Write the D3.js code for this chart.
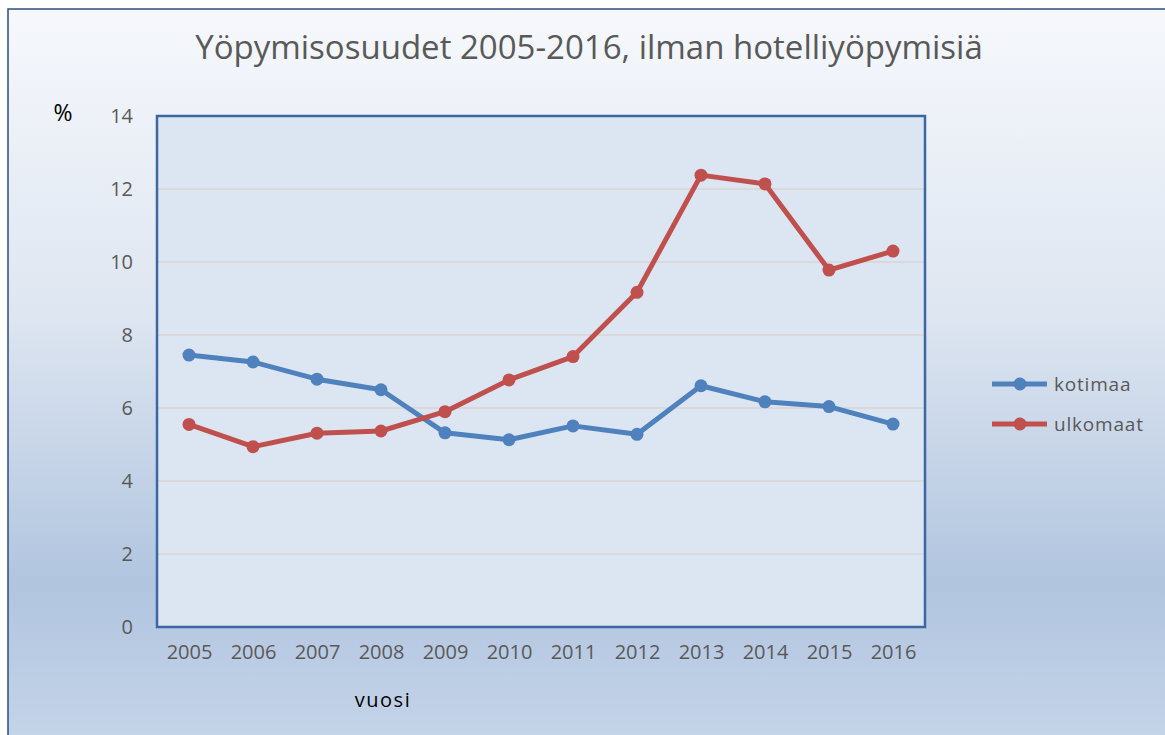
<!DOCTYPE html>
<html>
<head>
<meta charset="utf-8">
<script src="https://cdn.jsdelivr.net/npm/d3@7"></script>
<style>
  body { margin: 0; background: #fff; }
  text { font-family: "Open Sans", "Liberation Sans", sans-serif; }
</style>
</head>
<body>
<div id="container"></div>
<script>
/* DATA */
const years = ["2005", "2006", "2007", "2008", "2009", "2010", "2011", "2012", "2013", "2014", "2015", "2016"];
const kotimaa = [7.45, 7.26, 6.79, 6.5, 5.32, 5.13, 5.51, 5.28, 6.61, 6.17, 6.04, 5.56];
const ulkomaat = [5.55, 4.94, 5.31, 5.37, 5.9, 6.77, 7.41, 9.17, 12.38, 12.14, 9.78, 10.3];
const yTicks = [0, 2, 4, 6, 8, 10, 12, 14];

/* CONSTANTS */
const width = 1165, height = 735;
const plot = { left: 157, right: 925, top: 116, bottom: 627 };

const series = [
  { name: "kotimaa", values: kotimaa, color: "#4f81bd" },
  { name: "ulkomaat", values: ulkomaat, color: "#c0504d" }
];

const svg = d3.select("#container")
  .append("svg")
  .attr("width", width)
  .attr("height", height);

// background gradient
const defs = svg.append("defs");
const grad = defs.append("linearGradient")
  .attr("id", "bg")
  .attr("x1", 0).attr("y1", 0).attr("x2", 0).attr("y2", 1);
grad.append("stop").attr("offset", "0%").attr("stop-color", "#f6f8fc");
grad.append("stop").attr("offset", "40%").attr("stop-color", "#dee6f1");
grad.append("stop").attr("offset", "76%").attr("stop-color", "#b1c5df");
grad.append("stop").attr("offset", "100%").attr("stop-color", "#c7d6ea");

svg.append("rect")
  .attr("x", 8).attr("y", 9)
  .attr("width", width + 20).attr("height", height + 20)
  .attr("fill", "url(#bg)")
  .attr("stroke", "#2c4d7c")
  .attr("stroke-width", 1.5);

/* SCALES */
const xScale = d3.scalePoint()
  .domain(years)
  .range([plot.left, plot.right])
  .padding(0.5);

const yScale = d3.scaleLinear()
  .domain([0, 14])
  .range([plot.bottom, plot.top]);

// plot area
svg.append("rect")
  .attr("x", plot.left).attr("y", plot.top)
  .attr("width", plot.right - plot.left)
  .attr("height", plot.bottom - plot.top)
  .attr("fill", "#dce6f2");

// gridlines
svg.append("g")
  .selectAll("line")
  .data(yTicks.filter(d => d > 0 && d < 14))
  .join("line")
  .attr("x1", plot.left).attr("x2", plot.right)
  .attr("y1", d => yScale(d)).attr("y2", d => yScale(d))
  .attr("stroke", "#d9d9d9")
  .attr("stroke-width", 2);

svg.append("rect")
  .attr("x", plot.left).attr("y", plot.top)
  .attr("width", plot.right - plot.left)
  .attr("height", plot.bottom - plot.top)
  .attr("fill", "none")
  .attr("stroke", "#3d67a3")
  .attr("stroke-width", 2.5);

/* AXES */
const yAxis = d3.axisLeft(yScale).tickValues(yTicks).tickSize(0).tickPadding(24);
svg.append("g")
  .attr("transform", `translate(${plot.left},0)`)
  .call(yAxis)
  .call(g => g.select(".domain").remove())
  .call(g => g.selectAll("text")
    .attr("font-size", 20)
    .attr("fill", "#595959")
    .attr("font-family", "Open Sans, sans-serif"));

const xAxis = d3.axisBottom(xScale).tickSize(0).tickPadding(18);
svg.append("g")
  .attr("transform", `translate(0,${plot.bottom})`)
  .call(xAxis)
  .call(g => g.select(".domain").remove())
  .call(g => g.selectAll("text")
    .attr("font-size", 20)
    .attr("fill", "#595959")
    .attr("font-family", "Open Sans, sans-serif"));

/* LINES */
const line = d3.line()
  .x((d, i) => xScale(years[i]))
  .y(d => yScale(d));

series.forEach(s => {
  const g = svg.append("g");
  g.append("path")
    .datum(s.values)
    .attr("d", line)
    .attr("fill", "none")
    .attr("stroke", s.color)
    .attr("stroke-width", 5)
    .attr("stroke-linejoin", "round");
  g.selectAll("circle")
    .data(s.values)
    .join("circle")
    .attr("cx", (d, i) => xScale(years[i]))
    .attr("cy", d => yScale(d))
    .attr("r", 6.5)
    .attr("fill", s.color);
});

/* TITLE AND LABELS */
svg.append("text")
  .attr("x", 589).attr("y", 59)
  .attr("text-anchor", "middle")
  .attr("font-size", 33)
  .attr("fill", "#595959")
  .text("Yöpymisosuudet 2005-2016, ilman hotelliyöpymisiä");

svg.append("text")
  .attr("x", 63).attr("y", 121)
  .attr("text-anchor", "middle")
  .attr("font-size", 23)
  .attr("fill", "#000")
  .text("%");

svg.append("text")
  .attr("x", 383).attr("y", 707)
  .attr("text-anchor", "middle")
  .attr("font-size", 20)
  .attr("letter-spacing", 1.5)
  .attr("fill", "#000")
  .text("vuosi");

/* LEGEND */
const legend = svg.append("g")
  .selectAll("g")
  .data(series)
  .join("g")
  .attr("transform", (d, i) => `translate(992,${384 + i * 40})`);

legend.append("line")
  .attr("x1", 0).attr("x2", 55)
  .attr("stroke", d => d.color)
  .attr("stroke-width", 5);

legend.append("circle")
  .attr("cx", 28).attr("r", 6.5)
  .attr("fill", d => d.color);

legend.append("text")
  .attr("x", 62).attr("y", 7)
  .attr("font-size", 19)
  .attr("letter-spacing", 0.8)
  .attr("fill", "#595959")
  .text(d => d.name);
</script>
</body>
</html>
